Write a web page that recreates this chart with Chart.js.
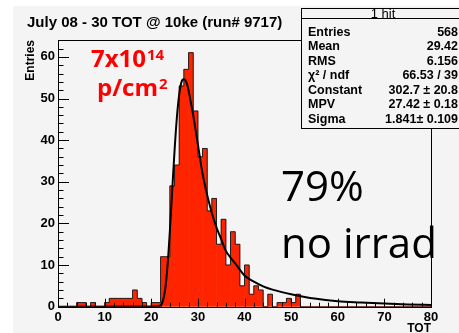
<!DOCTYPE html>
<html><head><meta charset="utf-8">
<script src="https://cdn.jsdelivr.net/npm/chart.js@4.4.0/dist/chart.umd.min.js"></script>
<style>html,body{margin:0;padding:0;background:#fff;}canvas{display:block;}</style>
</head><body>
<canvas id="c" width="459" height="333"></canvas>
<script>
// ---- data ----
const titleText = 'July 08 - 30 TOT @ 10ke (run# 9717)';
const xTitle = 'TOT';
const yTitle = 'Entries';
// histogram counts, bins of width 1 from 0 to 80
const counts = [
  0,0,0,0,1,1,0,1,0,0,
  1,2,2,2,2,2,4,2,1,0,
  1,1,12,12,29,34,53,57,61,47,
  36,38,23,26,15,21,10,18,15,5,
  10,3,5,4,0,3,0,1,1,2,
  1,3,0,0,0,0,0,0,0,0,
  0,0,0,0,0,0,0,0,0,0,
  0,0,0,0,0,0,0,0,0,0
];
// Landau fit curve
const fitX = [0,21,22,22.5,23,23.5,24,24.5,25,25.5,26,26.5,27,27.5,28,28.5,29,29.5,30,31,32,33,34,35,36,37,38,40,42,44,46,48,50,55,60,65,70,75,80];
const fitY = [0,0.05,0.3,1.4,4.3,10,18.3,28,37.5,45.5,51,54,54.6,54,52,49,46,42.5,39,32,26.8,22.5,19,16.2,13.4,11.8,10.4,7.5,6.0,4.9,4.1,3.5,3.0,1.95,1.3,1.0,0.75,0.55,0.42];
const xTickValues = [0,10,20,30,40,50,60,70,80];
const yTickValues = [0,10,20,30,40,50,60];
const statHeader = '1 hit';
const statLabels = ['Entries','Mean','RMS','\u03c7\u00b2 / ndf','Constant','MPV','Sigma'];
const statValues = ['568','29.42','6.156','66.53 / 39','302.7 \u00b1 20.8','27.42 \u00b1 0.18','1.841\u00b1 0.109'];
const fluenceLines = ['7x10', '14', 'p/cm', '2'];
const noteLines = ['79%', 'no irrad'];

// ---- style ----
const BG = 'rgb(244,244,244)';
const BAR = 'rgb(255,36,0)';
const FONT = '"Liberation Sans", Arial, sans-serif';

const barData = counts.map((c, i) => ({x: i + 0.5, y: c}));
const stepData = counts.map((c, i) => ({x: i, y: c}));
stepData.push({x: counts.length, y: 0});
const fitData = fitX.map((x, i) => ({x: x, y: fitY[i]}));

const decor = {
  id: 'decor',
  beforeDraw(chart) {
    const ctx = chart.ctx;
    ctx.save();
    ctx.fillStyle = '#fff';
    ctx.fillRect(0, 0, chart.width, chart.height);
    ctx.fillStyle = BG;
    ctx.fillRect(13, 6, chart.width - 13, chart.height - 6);
    ctx.restore();
  },
  afterDatasetsDraw(chart) {
    const ctx = chart.ctx;
    const a = chart.chartArea;
    const xs = chart.scales.x, ys = chart.scales.y;
    ctx.save();
    ctx.strokeStyle = '#000';
    ctx.lineWidth = 1;
    ctx.beginPath();
    for (let v = 0; v <= 80; v += 2) {
      const px = Math.round(xs.getPixelForValue(v)) + 0.5;
      const len = (v % 10 === 0) ? 8 : 4;
      ctx.moveTo(px, a.bottom);
      ctx.lineTo(px, a.bottom - len);
    }
    for (let v = 0; v <= 64; v += 2) {
      const py = Math.round(ys.getPixelForValue(v)) + 0.5;
      const len = (v % 10 === 0) ? 11 : 5.5;
      ctx.moveTo(a.left, py);
      ctx.lineTo(a.left + len, py);
    }
    ctx.stroke();
    ctx.strokeRect(Math.round(a.left) + 0.5, Math.round(a.top) + 0.5,
                   Math.round(a.right - a.left), Math.round(a.bottom - a.top));
    ctx.restore();
  },
  afterDraw(chart) {
    const ctx = chart.ctx;
    ctx.save();
    ctx.fillStyle = '#000';
    ctx.font = 'bold 15px ' + FONT;
    ctx.textBaseline = 'alphabetic';
    ctx.textAlign = 'left';
    ctx.fillText(titleText, 27, 27);
    // fluence annotation
    ctx.fillStyle = '#ff0000';
    ctx.font = 'bold 24px "Open Sans"';
    ctx.fillText(fluenceLines[0], 91, 67);
    let w = ctx.measureText(fluenceLines[0]).width;
    ctx.font = 'bold 15px "Open Sans"';
    ctx.fillText(fluenceLines[1], 91 + w + 1, 60);
    ctx.font = 'bold 24px "Open Sans"';
    ctx.fillText(fluenceLines[2], 97, 96);
    w = ctx.measureText(fluenceLines[2]).width;
    ctx.font = 'bold 15px "Open Sans"';
    ctx.fillText(fluenceLines[3], 97 + w + 1, 89);
    // notes
    ctx.fillStyle = '#000';
    ctx.font = '42px "Open Sans"';
    ctx.fillText(noteLines[0], 281, 201);
    ctx.fillText(noteLines[1], 281, 258);
    // stat box
    const bx = 301.5, by = 8.5, bw = 170, bh = 120;
    ctx.fillStyle = BG;
    ctx.fillRect(bx, by, bw, bh);
    ctx.strokeStyle = '#000';
    ctx.lineWidth = 1;
    ctx.strokeRect(bx, by, bw, bh);
    ctx.beginPath();
    ctx.moveTo(bx, 18.5); ctx.lineTo(bx + bw, 18.5);
    ctx.stroke();
    ctx.fillStyle = '#000';
    ctx.font = '13px ' + FONT;
    ctx.textAlign = 'center';
    ctx.fillText(statHeader, 383, 17.5);
    const rowY = [35.5, 50, 64.5, 79, 93.5, 108, 122.5];
    for (let i = 0; i < statLabels.length; i++) {
      ctx.textAlign = 'left';
      ctx.font = 'bold 12.5px ' + FONT;
      ctx.fillText(statLabels[i], 308, rowY[i]);
      ctx.textAlign = 'right';
      ctx.fillText(statValues[i], 458, rowY[i]);
    }
    ctx.restore();
  }
};

new Chart(document.getElementById('c'), {
  type: 'bar',
  data: {
    datasets: [
      {type: 'bar', data: barData, backgroundColor: BAR, borderWidth: 0,
       barPercentage: 1, categoryPercentage: 1, order: 3},
      {type: 'line', data: stepData, stepped: 'before', borderColor: '#222',
       borderWidth: 1, pointRadius: 0, fill: false, order: 2},
      {type: 'line', data: fitData, borderColor: '#000', borderWidth: 2,
       pointRadius: 0, fill: false, cubicInterpolationMode: 'monotone', order: 1}
    ]
  },
  options: {
    responsive: false,
    animation: false,
    devicePixelRatio: 1,
    layout: {padding: {left: 0, top: 40, right: 28, bottom: 0}},
    plugins: {legend: {display: false}, tooltip: {enabled: false}},
    scales: {
      x: {
        type: 'linear', min: 0, max: 80, offset: false,
        grid: {display: false, drawTicks: false},
        border: {display: false},
        ticks: {
          stepSize: 10, autoSkip: false, maxRotation: 0, padding: 3,
          color: '#000', font: {family: FONT, weight: 'bold', size: 13},
          callback: (v) => xTickValues.includes(v) ? String(v) : ''
        },
        title: {display: true, text: xTitle, align: 'end', color: '#000',
                font: {family: FONT, weight: 'bold', size: 12},
                padding: {top: 0, bottom: -3}},
        afterFit: (s) => { s.height = 26.3; }
      },
      y: {
        type: 'linear', min: 0, max: 64.05,
        grid: {display: false, drawTicks: false},
        border: {display: false},
        ticks: {
          stepSize: 10, includeBounds: false, padding: 3,
          color: '#000', font: {family: FONT, weight: 'bold', size: 13},
          callback: (v) => yTickValues.includes(v) ? String(v) : ''
        },
        title: {display: true, text: yTitle, align: 'end', color: '#000',
                font: {family: FONT, weight: 'bold', size: 12},
                padding: {top: 23, bottom: 0}},
        afterFit: (s) => { s.width = 58; }
      }
    }
  },
  plugins: [decor]
});
</script>
</body></html>
